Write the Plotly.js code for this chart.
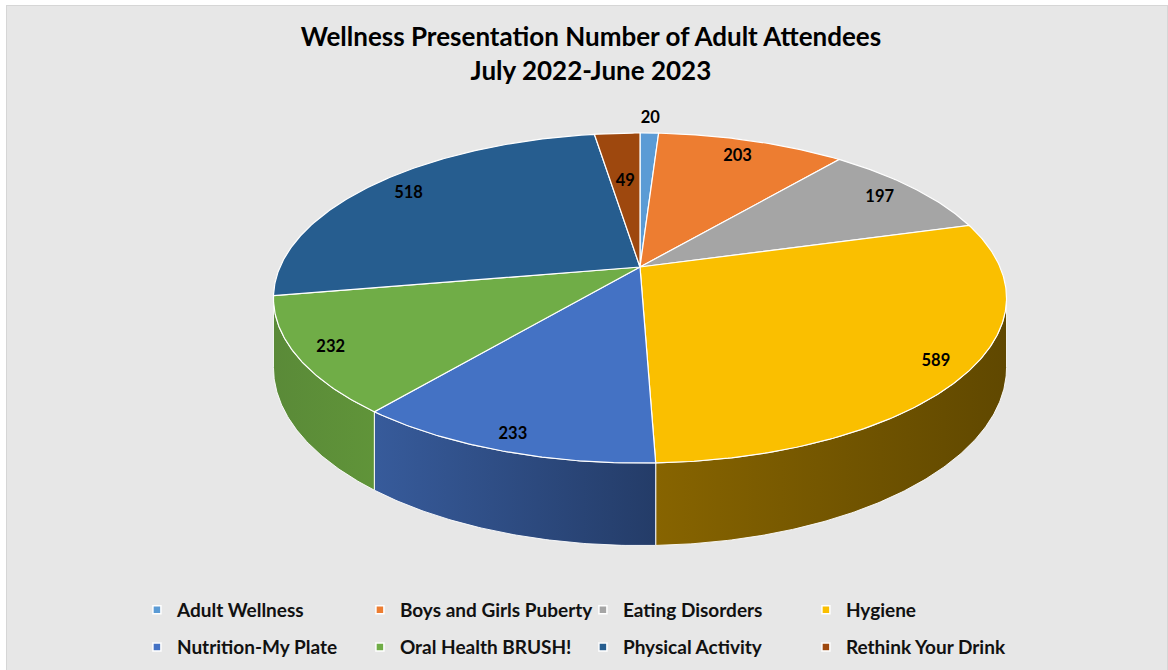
<!DOCTYPE html>
<html>
<head>
<meta charset="utf-8">
<script src="https://cdn.plot.ly/plotly-3.0.1.min.js"></script>
<style>
  html, body { margin: 0; padding: 0; background: #ffffff; overflow: hidden; width: 1168px; height: 670px; }
  #chart { position: absolute; left: 6px; top: 5px; width: 1160px; height: 664px; border: 1px solid #d6d6d6; }
</style>
</head>
<body>
<div id="chart"></div>
<script>
// ---- data ----
const categories = ["Adult Wellness", "Boys and Girls Puberty", "Eating Disorders", "Hygiene",
                    "Nutrition-My Plate", "Oral Health BRUSH!", "Physical Activity", "Rethink Your Drink"];
const attendees = [20, 203, 197, 589, 233, 232, 518, 49];
const chartTitle = "Wellness Presentation Number of Adult Attendees<br>July 2022-June 2023";

// ---- styles ----
const topColors = ["#5B9BD5", "#ED7D31", "#A5A5A5", "#FABF00", "#4472C4", "#70AD47", "#265D8F", "#9E480E"];
const sideLeft  = ["#3f6f9a", "#a85a22", "#777777", "#876400", "#375b9b", "#5a8a38", "#1b4468", "#70330a"];
const sideRight = ["#2d5070", "#7a4118", "#555555", "#604800", "#243c68", "#609439", "#12304b", "#512507"];
const FONT = "Lato, 'Open Sans', 'Liberation Sans', sans-serif";

// ---- projection of the tilted pie (screen coords = page pixels) ----
const XC = 640, YC = 267, AX = 360, KY = 159.2, PERSP = 0.188, DEPTH = 67;
function proj(deg, r) {
  const t = deg * Math.PI / 180;
  const u = r * Math.sin(t), v = r * Math.cos(t);
  const s = 1 / (1 + PERSP * v);
  return [XC + AX * u * s, YC - KY * v * s, s];
}
function arcRange(a, b) {
  const n = Math.max(2, Math.ceil((b - a) / 0.5));
  const out = [];
  for (let i = 0; i <= n; i++) out.push(a + (b - a) * i / n);
  return out;
}

const total = attendees.reduce((s, v) => s + v, 0);
const starts = [], ends = [];
let acc = 0;
attendees.forEach(v => { starts.push(acc / total * 360); acc += v; ends.push(acc / total * 360); });

const traces = [];
// visible outer wall between the two silhouette angles
const visA = Math.acos(-PERSP) * 180 / Math.PI, visB = 360 - visA;
categories.forEach((c, i) => {
  const a = Math.max(starts[i], visA), b = Math.min(ends[i], visB);
  if (b <= a) return;
  const xs = [], ys = [];
  const angs = arcRange(a, b);
  angs.forEach(d => { const p = proj(d, 1); xs.push(p[0]); ys.push(p[1]); });
  angs.slice().reverse().forEach(d => { const p = proj(d, 1); xs.push(p[0]); ys.push(p[1] + DEPTH * p[2]); });
  xs.push(xs[0]); ys.push(ys[0]);
  traces.push({
    type: "scatter", mode: "lines", x: xs, y: ys, fill: "toself",
    fillgradient: { type: "horizontal", colorscale: [[0, sideLeft[i]], [1, sideRight[i]]] },
    line: { color: "rgba(255,255,255,0.9)", width: 1 },
    hoverinfo: "skip", showlegend: false
  });
});
// top faces
categories.forEach((c, i) => {
  const xs = [XC], ys = [YC];
  arcRange(starts[i], ends[i]).forEach(d => { const p = proj(d, 1); xs.push(p[0]); ys.push(p[1]); });
  xs.push(XC); ys.push(YC);
  traces.push({
    type: "scatter", mode: "lines", x: xs, y: ys, fill: "toself",
    fillcolor: topColors[i], line: { color: "#ffffff", width: 1.2 },
    name: c, text: c + ": " + attendees[i], hoveron: "fills", hoverinfo: "text",
    showlegend: false
  });
});
// data labels (best-fit style: inside near the rim, tiny slices outside)
const lx = [], ly = [];
attendees.forEach((v, i) => {
  const share = v / total;
  const mid = (starts[i] + ends[i]) / 2;
  const r = share < 0.02 ? 1.13 : (share < 0.05 ? 0.6 : 0.89 - 0.04 * Math.cos(mid * Math.PI / 180));
  const p = proj(mid, r);
  lx.push(p[0]); ly.push(p[1]);
});
traces.push({
  type: "scatter", mode: "text", x: lx, y: ly, text: attendees.map(String),
  textposition: "middle center",
  textfont: { family: FONT, size: 16.5, color: "#000000", weight: "bold" },
  hoverinfo: "skip", showlegend: false
});
// legend entries
categories.forEach((c, i) => {
  traces.push({
    type: "scatter", mode: "markers", x: [null], y: [null], name: c,
    marker: { symbol: "square", size: 8, color: topColors[i], line: { color: "#ffffff", width: 1.5 } },
    legend: i < 4 ? "legend" : "legend2", showlegend: true, hoverinfo: "skip"
  });
});

const legendBase = {
  orientation: "h", xanchor: "left", x: 0.112, yanchor: "middle",
  entrywidth: 178, entrywidthmode: "pixels", bgcolor: "rgba(0,0,0,0)",
  font: { family: FONT, size: 19, color: "#111111", weight: "bold" },
  itemclick: false, itemdoubleclick: false, traceorder: "normal"
};

const layout = {
  width: 1160, height: 664,
  margin: { l: 0, r: 0, t: 0, b: 0 },
  paper_bgcolor: "#e7e7e7", plot_bgcolor: "rgba(0,0,0,0)",
  title: {
    text: chartTitle, x: 0.5034, xanchor: "center", xref: "paper",
    y: 0.94, yanchor: "top", yref: "container",
    font: { family: FONT, size: 26, color: "#000000", weight: "bold" }
  },
  xaxis: { range: [7, 1167], visible: false, fixedrange: true },
  yaxis: { range: [670, 6], visible: false, fixedrange: true },
  showlegend: true,
  legend: Object.assign({}, legendBase, { y: 0.0904 }),
  legend2: Object.assign({}, legendBase, { y: 0.0346 }),
  hovermode: "closest"
};

Plotly.newPlot("chart", traces, layout, { displayModeBar: false, responsive: false });
</script>
</body>
</html>
